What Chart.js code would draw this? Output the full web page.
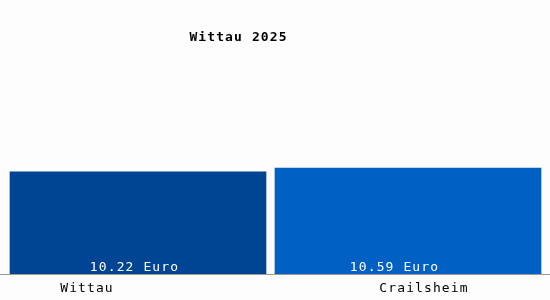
<!DOCTYPE html>
<html>
<head>
<meta charset="utf-8">
<script src="https://cdn.jsdelivr.net/npm/chart.js@4"></script>
<style>
    html, body { margin: 0; padding: 0; background: #fdfdfd; }
    #box { width: 550px; height: 300px; position: relative; }
</style>
</head>
<body>
<div id="box"><canvas id="wageChart" width="550" height="300"></canvas></div>
<script>
const chartTitle = "Wittau 2025";
const places = ["Wittau", "Crailsheim"];
const wages = [10.22, 10.59];
const unit = "Euro";
const barColors = ["#004494", "#0060c4"];

// the bars and labels in the original are not all the same width / centred
const barWidths = [256, 266];
const valueShift = [-3.5, -13.5];
const nameShift = [-51, 16];

const monoFont = "'DejaVu Sans Mono', monospace";

// one dataset per place so each bar can get its own thickness
const datasets = places.map((p, i) => ({
    data: wages.map((w, j) => (j === i ? w : null)),
    backgroundColor: barColors[i],
    borderWidth: 0,
    barThickness: barWidths[i],
}));

const labelPlugin = {
    id: "labelPlugin",
    afterDatasetsDraw(chart) {
        const ctx = chart.ctx;
        const yZero = chart.scales.y.getPixelForValue(0);

        ctx.save();
        ctx.letterSpacing = "1.1px";
        ctx.textAlign = "center";
        ctx.textBaseline = "middle";

        // baseline
        ctx.strokeStyle = "#9a9a9a";
        ctx.lineWidth = 1;
        ctx.beginPath();
        ctx.moveTo(0, Math.round(yZero) + 0.5);
        ctx.lineTo(chart.width, Math.round(yZero) + 0.5);
        ctx.stroke();

        places.forEach((p, i) => {
            const bar = chart.getDatasetMeta(i).data[i];
            ctx.font = "13px " + monoFont;
            ctx.fillStyle = "#ffffff";
            ctx.fillText(wages[i].toFixed(2) + " " + unit, bar.x + valueShift[i], yZero - 6);
            ctx.fillStyle = "#000000";
            ctx.fillText(p, bar.x + nameShift[i], yZero + 15);
        });

        ctx.font = "bold 13px " + monoFont;
        ctx.fillStyle = "#000000";
        ctx.fillText(chartTitle, 238.5, 38);
        ctx.restore();
    }
};

new Chart(document.getElementById("wageChart").getContext("2d"), {
    type: "bar",
    data: {
        labels: places,
        datasets: datasets,
    },
    options: {
        responsive: false,
        animation: false,
        grouped: false,
        layout: {padding: {left: 3, right: 7, top: 24, bottom: 26}},
        plugins: {legend: {display: false}, tooltip: {enabled: false}},
        scales: {
            x: {display: false},
            y: {display: false, min: 0, max: 25},
        },
    },
    plugins: [labelPlugin],
});
</script>
</body>
</html>
